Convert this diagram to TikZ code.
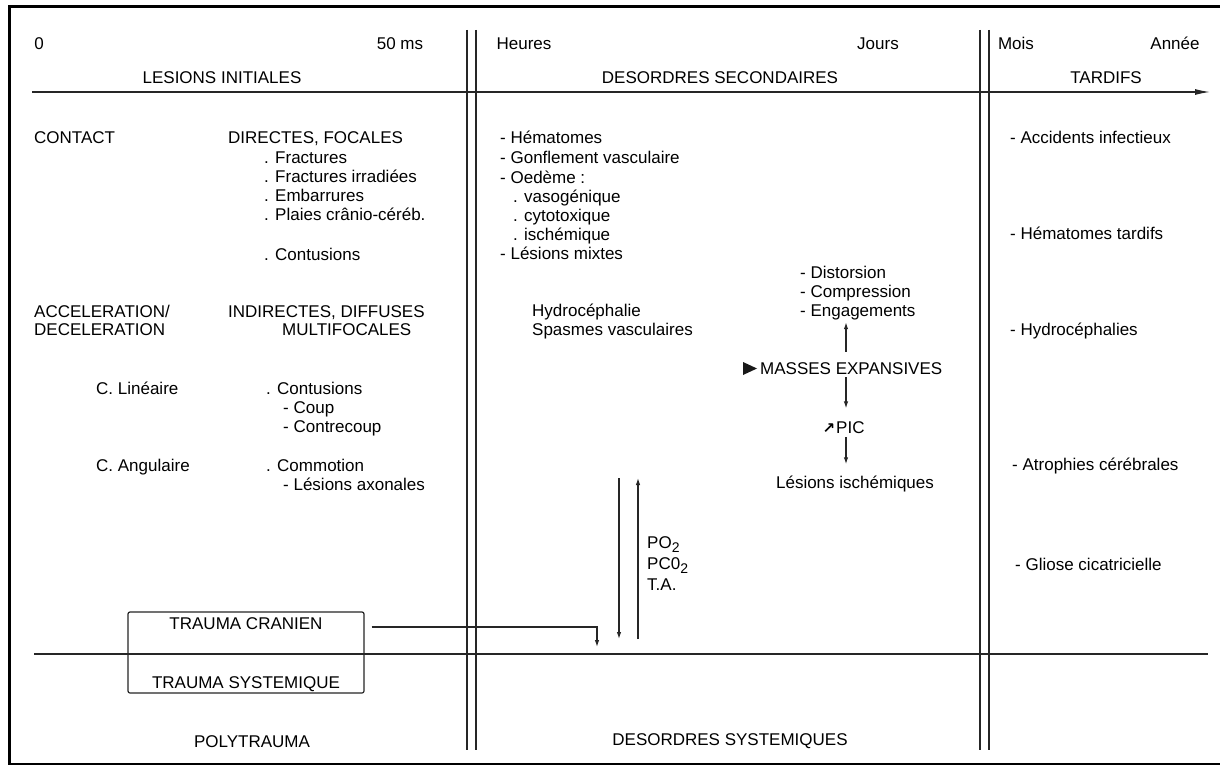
\documentclass[tikz,border=0pt]{standalone}
\usepackage{fontspec}
\setmainfont{Liberation Sans}
\newfontfamily\symfont{DejaVu Sans}
\usetikzlibrary{arrows.meta}
\newcommand{\lowtwo}{\raisebox{-4pt}{\fontsize{14}{14}\selectfont 2}}
\begin{document}
\begin{tikzpicture}[x=1pt,y=-1pt,
  lbl/.style={inner sep=0pt, font=\fontsize{17}{19}\selectfont, anchor=base west},
  lblc/.style={lbl, anchor=base},
  rule/.style={line width=1.2pt, black!85},
  frameline/.style={line width=3pt, line join=miter},
  arr/.style={rule, -{Latex[length=7pt,width=4.5pt]}},
  axisarr/.style={rule, -{Latex[length=15pt,width=6pt]}},
]
\useasboundingbox (0,0) rectangle (1220,765);
\fill[white] (0,0) rectangle (1220,765);
% frame
\draw[frameline] (1224,7) -- (9,7) -- (9,764) -- (1224,764);

% header
\node[lblc] (h0) at (39,50) {0};
\node[lblc] (h50) at (400,50) {50 ms};
\node[lblc] (hh) at (524,50) {Heures};
\node[lblc] (hj) at (878,50) {Jours};
\node[lblc] (hm) at (1016,50) {Mois};
\node[lblc] (ha) at (1175,50) {Année};
\node[lblc] (hli) at (222,84) {LESIONS INITIALES};
\node[lblc] (hds) at (720,84) {DESORDRES SECONDAIRES};
\node[lblc] (ht) at (1106,84) {TARDIFS};

% axis and separators
\coordinate (axl) at (32,92);
\coordinate (axr) at (1210,92);
\draw[axisarr] (axl) -- (axr);
\coordinate (bl) at (34,654);
\coordinate (br) at (1208,654);
\draw[rule] (bl) -- (br);
\draw[rule] (467,30) -- (467,750);
\draw[rule] (476,30) -- (476,750);
\draw[rule] (980,30) -- (980,750);
\draw[rule] (989,30) -- (989,750);

% left column
\node[lbl] (contact) at (34,143) {CONTACT};
\node[lbl] (directes) at (228,143) {DIRECTES, FOCALES};
\node[lbl] (fr1) at (264,163) {. Fractures};
\node[lbl] (fr2) at (264,182) {. Fractures irradiées};
\node[lbl] (emb) at (264,201) {. Embarrures};
\node[lbl] (plaies) at (264,220) {. Plaies crânio-céréb.};
\node[lbl] (cont1) at (264,260) {. Contusions};
\node[lbl] (accel) at (34,317) {ACCELERATION/};
\node[lbl] (decel) at (34,335) {DECELERATION};
\node[lbl] (indir) at (228,317) {INDIRECTES, DIFFUSES};
\node[lbl] (multi) at (282,335) {MULTIFOCALES};
\node[lbl] (clin) at (96,394) {C. Linéaire};
\node[lbl] (cont2) at (266,394) {. Contusions};
\node[lbl] (coup) at (283,413) {- Coup};
\node[lbl] (ccoup) at (283,432) {- Contrecoup};
\node[lbl] (cang) at (96,471) {C. Angulaire};
\node[lbl] (commo) at (266,471) {. Commotion};
\node[lbl] (axon) at (283,490) {- Lésions axonales};

% middle column
\node[lbl] (hema) at (500,143) {- Hématomes};
\node[lbl] (gonf) at (500,163) {- Gonflement vasculaire};
\node[lbl] (oed) at (500,183) {- Oedème :};
\node[lbl] (vaso) at (513,202) {. vasogénique};
\node[lbl] (cyto) at (513,221) {. cytotoxique};
\node[lbl] (isch) at (513,240) {. ischémique};
\node[lbl] (mixt) at (500,259) {- Lésions mixtes};
\node[lbl] (dist) at (800,278) {- Distorsion};
\node[lbl] (compr) at (800,297) {- Compression};
\node[lbl] (engag) at (800,316) {- Engagements};
\node[lbl] (hydro) at (532,316) {Hydrocéphalie};
\node[lbl] (spasm) at (532,335) {Spasmes vasculaires};
\node[lbl] (masses) at (760,374) {MASSES EXPANSIVES};
\fill[black!90] (743,362) -- (743,375) -- (757,368.5) -- cycle;
\node[lbl] (pic) at (836,433) {PIC};
\node[lbl, anchor=base east, font=\symfont\bfseries\fontsize{15}{15}\selectfont] (incr) at ([xshift=-0.5pt]pic.base west) {↗};
\node[lblc] (lisch) at (855,488) {Lésions ischémiques};
\coordinate (ax) at (846,0);
\draw[arr, shorten <=10pt, shorten >=2.5pt] (masses.north -| ax) -- (engag.south -| ax);
\draw[arr, shorten <=3pt, shorten >=12.5pt] (masses.south -| ax) -- (pic.north -| ax);
\draw[arr, shorten <=4pt, shorten >=11pt] (pic.south -| ax) -- (lisch.north -| ax);

% systemic arrows
\coordinate (dtop) at (619,478);
\coordinate (dbot) at (619,639);
\coordinate (utop) at (638,478);
\coordinate (ubot) at (638,639);
\draw[arr] (dtop) -- (dbot);
\draw[arr] (ubot) -- (utop);
\node[lbl] (po2) at (647,548) {PO\lowtwo};
\node[lbl] (pco2) at (647,569) {PC0\lowtwo};
\node[lbl] (ta) at (647,590) {T.A.};

% right column
\node[lbl] (acc) at (1010,143) {- Accidents infectieux};
\node[lbl] (hemt) at (1010,239) {- Hématomes tardifs};
\node[lbl] (hydr) at (1010,335) {- Hydrocéphalies};
\node[lbl] (atro) at (1012,470) {- Atrophies cérébrales};
\node[lbl] (glio) at (1015,570) {- Gliose cicatricielle};

% bottom
\node[draw, rule, rounded corners=2pt, minimum width=236pt, minimum height=81pt, inner sep=0pt] (box) at (246,652.5) {};
\node[lblc] (tc) at (246,629) {TRAUMA CRANIEN};
\node[lblc] (ts) at (246,688) {TRAUMA SYSTEMIQUE};
\node[lblc] (poly) at (252,747) {POLYTRAUMA};
\node[lblc] (dsys) at (730,745) {DESORDRES SYSTEMIQUES};
\coordinate (tcturn) at (597,627);
\draw[arr] (box.east |- tcturn) ++(7,0) -- (tcturn) -- ++(0,20);
\end{tikzpicture}
\end{document}
